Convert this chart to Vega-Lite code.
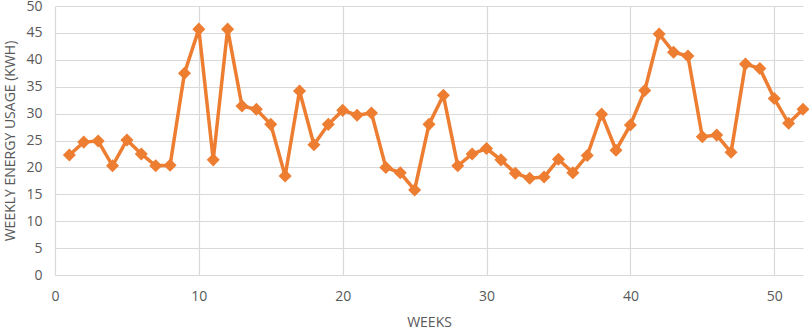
{
  "$schema": "https://vega.github.io/schema/vega-lite/v6.json",
  "width": 748,
  "height": 269,
  "autosize": {"type": "none"},
  "padding": {"left": 55, "top": 6, "right": 6, "bottom": 55},
  "background": "white",
  "config": {
    "view": {"stroke": null},
    "font": "Open Sans"
  },
  "data": {
    "values": [
      {"week": 1, "kwh": 22.3}, {"week": 2, "kwh": 24.7}, {"week": 3, "kwh": 24.9},
      {"week": 4, "kwh": 20.3}, {"week": 5, "kwh": 25.1}, {"week": 6, "kwh": 22.5},
      {"week": 7, "kwh": 20.3}, {"week": 8, "kwh": 20.4}, {"week": 9, "kwh": 37.5},
      {"week": 10, "kwh": 45.7}, {"week": 11, "kwh": 21.4}, {"week": 12, "kwh": 45.7},
      {"week": 13, "kwh": 31.4}, {"week": 14, "kwh": 30.8}, {"week": 15, "kwh": 28.0},
      {"week": 16, "kwh": 18.4}, {"week": 17, "kwh": 34.2}, {"week": 18, "kwh": 24.2},
      {"week": 19, "kwh": 28.0}, {"week": 20, "kwh": 30.6}, {"week": 21, "kwh": 29.7},
      {"week": 22, "kwh": 30.1}, {"week": 23, "kwh": 20.0}, {"week": 24, "kwh": 19.0},
      {"week": 25, "kwh": 15.8}, {"week": 26, "kwh": 28.0}, {"week": 27, "kwh": 33.4},
      {"week": 28, "kwh": 20.3}, {"week": 29, "kwh": 22.5}, {"week": 30, "kwh": 23.5},
      {"week": 31, "kwh": 21.4}, {"week": 32, "kwh": 18.9}, {"week": 33, "kwh": 18.0},
      {"week": 34, "kwh": 18.2}, {"week": 35, "kwh": 21.5}, {"week": 36, "kwh": 19.0},
      {"week": 37, "kwh": 22.2}, {"week": 38, "kwh": 29.9}, {"week": 39, "kwh": 23.2},
      {"week": 40, "kwh": 27.9}, {"week": 41, "kwh": 34.3}, {"week": 42, "kwh": 44.8},
      {"week": 43, "kwh": 41.4}, {"week": 44, "kwh": 40.7}, {"week": 45, "kwh": 25.7},
      {"week": 46, "kwh": 26.0}, {"week": 47, "kwh": 22.8}, {"week": 48, "kwh": 39.2},
      {"week": 49, "kwh": 38.4}, {"week": 50, "kwh": 32.8}, {"week": 51, "kwh": 28.2},
      {"week": 52, "kwh": 30.8}
    ]
  },
  "mark": {
    "type": "line",
    "color": "#ED7D31",
    "strokeWidth": 3.5,
    "point": {"shape": "diamond", "size": 170, "filled": true, "color": "#ED7D31", "opacity": 1}
  },
  "encoding": {
    "x": {
      "field": "week",
      "type": "quantitative",
      "scale": {"domain": [0, 52], "nice": false, "zero": true},
      "axis": {
        "values": [0, 10, 20, 30, 40, 50],
        "title": "WEEKS",
        "titleFontSize": 14,
        "titleFontWeight": "normal",
        "titleColor": "#595959",
        "titlePadding": 12,
        "labelFontSize": 14,
        "labelColor": "#595959",
        "labelPadding": 14,
        "ticks": false,
        "domain": false,
        "grid": true,
        "gridColor": "#d9d9d9",
        "gridWidth": 1.2,
        "labelFlush": false
      }
    },
    "y": {
      "field": "kwh",
      "type": "quantitative",
      "scale": {"domain": [0, 50], "nice": false},
      "axis": {
        "values": [0, 5, 10, 15, 20, 25, 30, 35, 40, 45, 50],
        "title": "WEEKLY ENERGY USAGE (KWH)",
        "titleFontSize": 14,
        "titleFontWeight": "normal",
        "titleColor": "#595959",
        "titlePadding": 8,
        "labelFontSize": 14,
        "labelColor": "#595959",
        "labelPadding": 13,
        "ticks": false,
        "domain": false,
        "grid": true,
        "gridColor": "#d9d9d9",
        "gridWidth": 1.2,
        "labelFlush": false
      }
    }
  }
}
